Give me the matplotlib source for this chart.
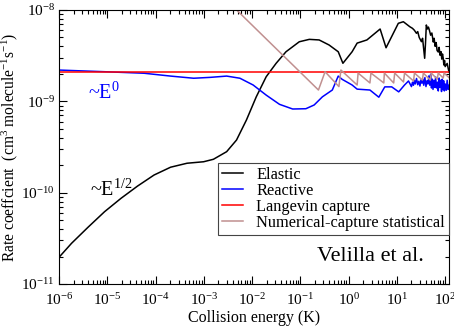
import numpy as np
import matplotlib
matplotlib.use('Agg')
import matplotlib.pyplot as plt
from matplotlib.ticker import LogLocator, NullFormatter

plt.rcParams['font.family'] = ['Liberation Serif', 'DejaVu Serif']
plt.rcParams['mathtext.fontset'] = 'custom'
plt.rcParams['mathtext.rm'] = 'Liberation Serif'
plt.rcParams['mathtext.it'] = 'Liberation Serif:italic'

# Tick positions and labels
x_ticks = [1e-6, 1e-5, 1e-4, 1e-3, 1e-2, 1e-1, 1e0, 1e1, 1e2]
x_ticklabels = [r'$10^{-6}$', r'$10^{-5}$', r'$10^{-4}$', r'$10^{-3}$', r'$10^{-2}$',
                r'$10^{-1}$', r'$10^{0}$', r'$10^{1}$', r'$10^{2}$']
y_ticks = [1e-11, 1e-10, 1e-9, 1e-8]
y_ticklabels = [r'$10^{-11}$', r'$10^{-10}$', r'$10^{-9}$', r'$10^{-8}$']

# Elastic rate coefficient (black)
elastic_E = [1e-6, 1.82e-6, 3.99e-6, 8.79e-6, 1.93e-5, 4.23e-5, 9.31e-5, 2.05e-4, 4.49e-4, 9.89e-4,
             1.58e-3, 2.97e-3, 4.76e-3, 7.64e-3, 1.22e-2, 1.96e-2, 3.15e-2, 5.04e-2, 9.5e-2, 0.153,
             0.245, 0.393, 0.609, 0.761, 1.18, 1.50, 2.39, 4.49, 5.96, 10.7, 13.6,
             18.5, 21.0, 23.0, 25.4, 27.0, 29.0, 32.2, 34.0, 37.6, 39.0, 40.7, 43.0, 45.0, 47.0,
             50.0, 53.0, 56.7, 59.0, 62.0, 65.0, 68.0, 71.8, 75.0, 78.0, 82.0, 85.0, 88.0, 91.0,
             94.0, 97.0, 100.0, 110.0, 120.0]
elastic_k = [1.96e-11, 2.79e-11, 4.18e-11, 6.19e-11, 8.68e-11, 1.18e-10, 1.56e-10, 1.90e-10, 2.10e-10, 2.18e-10,
             2.32e-10, 2.81e-10, 3.77e-10, 6.25e-10, 1.12e-9, 1.86e-9, 2.61e-9, 3.49e-9, 4.49e-9, 4.77e-9,
             4.70e-9, 4.14e-9, 3.49e-9, 2.61e-9, 3.49e-9, 4.34e-9, 4.70e-9, 6.19e-9, 3.86e-9, 7.15e-9, 7.44e-9,
             6.56e-9, 6.3e-9, 6.0e-9, 5.56e-9, 5.8e-9, 5.0e-9, 4.5e-9, 4.9e-9, 2.96e-9, 4.2e-9, 6.85e-9, 6.2e-9, 6.5e-9, 6.03e-9,
             5.3e-9, 5.6e-9, 4.46e-9, 4.9e-9, 4.0e-9, 4.4e-9, 3.6e-9, 3.47e-9, 3.9e-9, 3.2e-9, 3.5e-9, 2.9e-9, 3.3e-9, 2.98e-9,
             2.5e-9, 2.8e-9, 2.4e-9, 2.6e-9, 2.09e-9]

# Reactive rate coefficient (blue)
reactive_E = [1e-6, 8.79e-6, 5.81e-5, 2.05e-4, 6.17e-4, 1.36e-3, 2.97e-3, 5.6e-3, 1.05e-2, 1.96e-2,
              3.70e-2, 6.93e-2, 0.130, 0.193, 0.286, 0.459, 0.609, 0.736, 1.18, 1.50, 2.76, 4.22,
              5.61, 7.8, 10.9, 14.4, 17.4,
              20.0, 21.0, 22.0, 23.0, 24.0, 25.5, 27.0, 28.5, 30.0, 31.5, 33.0, 34.5, 36.0, 38.0,
              40.0, 42.0, 44.0, 46.0, 48.0, 50.0, 52.0, 54.0, 56.0, 58.5, 61.0, 63.5, 66.0, 69.0,
              72.0, 75.0, 78.0, 81.0, 84.0, 87.0, 90.0, 93.0, 96.0, 100.0, 105.0, 110.0, 115.0, 120.0]
reactive_k = [2.20e-9, 2.11e-9, 2.03e-9, 1.89e-9, 1.79e-9, 1.83e-9, 1.89e-9, 1.79e-9, 1.51e-9, 1.17e-9,
              9.27e-10, 8.24e-10, 8.30e-10, 9.12e-10, 1.12e-9, 1.33e-9, 1.89e-9, 1.74e-9, 1.51e-9, 1.36e-9, 1.33e-9, 1.11e-9,
              1.44e-9, 1.44e-9, 1.27e-9, 1.51e-9, 1.67e-9,
              1.45e-9, 1.62e-9, 1.50e-9, 1.70e-9, 1.55e-9, 1.78e-9, 1.52e-9, 1.66e-9, 1.47e-9, 1.72e-9, 1.58e-9, 1.75e-9, 1.50e-9, 1.82e-9,
              1.45e-9, 1.68e-9, 1.55e-9, 1.90e-9, 1.50e-9, 1.98e-9, 1.40e-9, 1.75e-9, 1.35e-9, 1.70e-9, 1.42e-9, 1.85e-9, 1.40e-9, 1.62e-9,
              1.30e-9, 1.80e-9, 1.42e-9, 1.70e-9, 1.28e-9, 1.75e-9, 1.35e-9, 1.68e-9, 1.30e-9, 1.55e-9, 1.32e-9, 1.70e-9, 1.35e-9, 1.50e-9]

# Langevin capture (red)
langevin_E = [1e-6, 120.0]
langevin_k = [2.07e-9, 2.07e-9]

# Numerical-capture statistical (brown)
statistical_E = [2.0e-3, 0.237, 0.325, 0.629, 0.692, 1.50, 1.57, 2.76, 2.90, 5.35, 5.5, 8.57, 9.0,
                 13.7, 14.4, 22.1, 23.1, 33.7, 35.3, 49.2, 51.5, 68.6, 71.8, 91.0, 95.0, 120.0]
statistical_k = [1.57e-8, 1.33e-9, 2.11e-9, 1.45e-9, 2.20e-9, 1.51e-9, 2.04e-9, 1.59e-9, 2.04e-9, 1.59e-9, 2.04e-9, 1.59e-9, 2.04e-9,
                 1.63e-9, 2.04e-9, 1.67e-9, 2.04e-9, 1.71e-9, 2.04e-9, 1.71e-9, 2.04e-9, 1.75e-9, 2.04e-9, 1.80e-9, 2.04e-9, 1.82e-9]

fig = plt.figure(figsize=(4.54, 3.32), dpi=100)
ax = fig.add_axes([59/454, 48/332, 390/454, 274/332])

ax.plot(elastic_E, elastic_k, color='black', lw=1.1, label='Elastic')
ax.plot(reactive_E, reactive_k, color='#0000ff', lw=1.1, label='Reactive')
ax.plot(langevin_E, langevin_k, color='#ff0000', lw=1.1, label='Langevin capture')
ax.plot(statistical_E, statistical_k, color='#c09090', lw=1.1, label='Numerical-capture statistical')

ax.set_xscale('log')
ax.set_yscale('log')
ax.set_xlim(1e-6, 1.2e2)
ax.set_ylim(1e-11, 1e-8)

ax.set_xticks(x_ticks)
ax.set_xticklabels(x_ticklabels)
ax.set_yticks(y_ticks)
ax.set_yticklabels(y_ticklabels)
ax.xaxis.set_minor_locator(LogLocator(base=10, subs=np.arange(2, 10), numticks=20))
ax.yaxis.set_minor_locator(LogLocator(base=10, subs=np.arange(2, 10), numticks=20))
ax.xaxis.set_minor_formatter(NullFormatter())
ax.yaxis.set_minor_formatter(NullFormatter())
ax.tick_params(which='both', direction='in', top=True, right=True, labelsize=11)
ax.tick_params(which='major', length=6, width=0.8)
ax.tick_params(which='minor', length=3, width=0.8)
ax.tick_params(axis='x', pad=6)
ax.tick_params(axis='y', pad=3)

ax.set_xlabel('Collision energy (K)', fontsize=11.5, labelpad=1)
ax.set_ylabel(r'Rate coeffcient  (cm$^3$ molecule$^{-1}$s$^{-1}$)', fontsize=11.2)
ax.yaxis.set_label_coords(-0.1, 0.5)

ax.text(0.074, 0.675, r'~E$^{0}$', color='#0000ff', fontsize=14.5, transform=ax.transAxes, va='baseline')
ax.text(0.079, 0.321, r'~E$^{1/2}$', color='black', fontsize=14.5, transform=ax.transAxes, va='baseline')
ax.text(0.936, 0.084, 'Velilla et al.', fontsize=16, transform=ax.transAxes, ha='right', va='baseline')

leg = ax.legend(loc='upper right', bbox_to_anchor=(1.0, 0.4416), borderaxespad=0, fontsize=11.8,
                fancybox=False, framealpha=1, edgecolor='#444444', handlelength=1.3,
                labelspacing=0.0, borderpad=0.25, handletextpad=0.8)
leg.get_frame().set_linewidth(0.8)

plt.savefig('out.png', dpi=100)
